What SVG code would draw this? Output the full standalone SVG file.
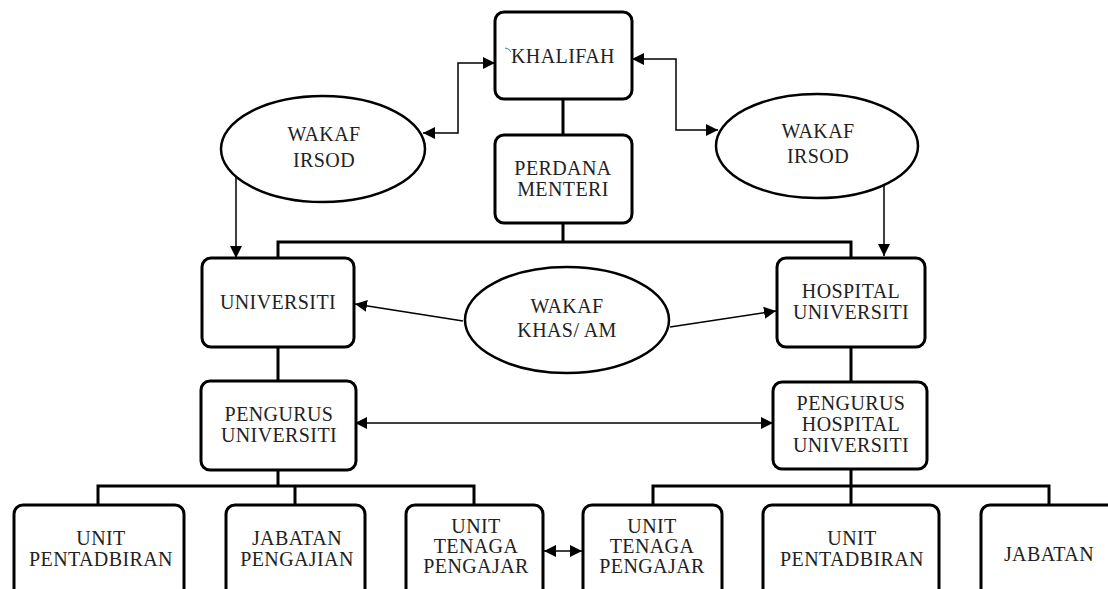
<svg xmlns="http://www.w3.org/2000/svg" width="1108" height="589" viewBox="0 0 1108 589">
<defs>
<style>
.box{fill:#fff;stroke:#000;stroke-width:3}
.ell{fill:#fff;stroke:#000;stroke-width:2.5}
.t{font-family:"Liberation Serif","Times New Roman",serif;font-size:20px;letter-spacing:0.4px;fill:#222;text-anchor:middle}
.tree{fill:none;stroke:#000;stroke-width:3}
.arr{fill:none;stroke:#000;stroke-width:1.5}
</style>
<marker id="ah" viewBox="0 0 12 12" refX="12" refY="6" markerWidth="12" markerHeight="12" markerUnits="userSpaceOnUse" orient="auto-start-reverse">
<path d="M0,0 L12,6 L0,12 Z" fill="#000"/>
</marker>
</defs>
<rect width="1108" height="589" fill="#fff"/>
<g id="connectors">
<path class="tree" d="M563,99 V135 M563,223 V242 M278,258 V242 H851 V258 M278,347 V381 M851,347 V382"/>
<path class="tree" d="M278,470 V486 M98,505 V486 H474 V505 M295,486 V505"/>
<path class="tree" d="M851,469 V486 M653,505 V486 H1049 V505 M851,486 V505"/>
<path class="arr" d="M423,133 H458 V63 H495" marker-start="url(#ah)" marker-end="url(#ah)"/>
<path class="arr" d="M632,59 H676 V130 H718" marker-start="url(#ah)" marker-end="url(#ah)"/>
<path class="arr" d="M236,177 V258" marker-end="url(#ah)"/>
<path class="arr" d="M884,185 V256" marker-end="url(#ah)"/>
<path class="arr" d="M463,321 L355,304" marker-end="url(#ah)"/>
<path class="arr" d="M670,327 L776,311" marker-end="url(#ah)"/>
<path class="arr" d="M355,423 H773" marker-start="url(#ah)" marker-end="url(#ah)"/>
<path class="arr" d="M544,551 H582" marker-start="url(#ah)" marker-end="url(#ah)"/>
</g>
<g id="khalifah">
<rect class="box" x="495" y="12" width="137" height="87" rx="9"/>
<path d="M505,48 Q509,48 511,52" fill="none" stroke="#4a6fd0" stroke-width="1"/>
<text class="t" x="563" y="63">KHALIFAH</text>
</g>
<g id="perdana">
<rect class="box" x="495" y="135" width="137" height="88" rx="9"/>
<text class="t" x="563" y="175">PERDANA</text>
<text class="t" x="563" y="196">MENTERI</text>
</g>
<g id="wakaf-irsod-left">
<ellipse class="ell" cx="323" cy="149" rx="102" ry="53"/>
<text class="t" x="324" y="141">WAKAF</text>
<text class="t" x="324" y="167">IRSOD</text>
</g>
<g id="wakaf-irsod-right">
<ellipse class="ell" cx="817" cy="146" rx="101" ry="52"/>
<text class="t" x="818" y="138">WAKAF</text>
<text class="t" x="818" y="163">IRSOD</text>
</g>
<g id="universiti">
<rect class="box" x="202" y="258" width="152" height="89" rx="9"/>
<text class="t" x="278" y="309">UNIVERSITI</text>
</g>
<g id="wakaf-khas">
<ellipse class="ell" cx="567" cy="320" rx="102" ry="53"/>
<text class="t" x="567" y="313">WAKAF</text>
<text class="t" x="567" y="337">KHAS/ AM</text>
</g>
<g id="hospital-universiti">
<rect class="box" x="777" y="258" width="148" height="89" rx="9"/>
<text class="t" x="851" y="298">HOSPITAL</text>
<text class="t" x="851" y="319">UNIVERSITI</text>
</g>
<g id="pengurus-universiti">
<rect class="box" x="201" y="381" width="155" height="89" rx="9"/>
<text class="t" x="279" y="421">PENGURUS</text>
<text class="t" x="279" y="442">UNIVERSITI</text>
</g>
<g id="pengurus-hospital">
<rect class="box" x="773" y="382" width="154" height="87" rx="9"/>
<text class="t" x="851" y="410">PENGURUS</text>
<text class="t" x="851" y="431">HOSPITAL</text>
<text class="t" x="851" y="452">UNIVERSITI</text>
</g>
<g id="unit-pentadbiran-left">
<rect class="box" x="14" y="505" width="170" height="100" rx="9"/>
<text class="t" x="101" y="545">UNIT</text>
<text class="t" x="101" y="566">PENTADBIRAN</text>
</g>
<g id="jabatan-pengajian">
<rect class="box" x="226" y="505" width="139" height="100" rx="9"/>
<text class="t" x="297" y="545">JABATAN</text>
<text class="t" x="297" y="566">PENGAJIAN</text>
</g>
<g id="unit-tenaga-left">
<rect class="box" x="406" y="505" width="137" height="100" rx="9"/>
<text class="t" x="476" y="533">UNIT</text>
<text class="t" x="476" y="553">TENAGA</text>
<text class="t" x="476" y="573">PENGAJAR</text>
</g>
<g id="unit-tenaga-right">
<rect class="box" x="583" y="505" width="139" height="100" rx="9"/>
<text class="t" x="652" y="533">UNIT</text>
<text class="t" x="652" y="553">TENAGA</text>
<text class="t" x="652" y="573">PENGAJAR</text>
</g>
<g id="unit-pentadbiran-right">
<rect class="box" x="763" y="505" width="176" height="100" rx="9"/>
<text class="t" x="852" y="545">UNIT</text>
<text class="t" x="852" y="566">PENTADBIRAN</text>
</g>
<g id="jabatan">
<rect class="box" x="981" y="505" width="136" height="100" rx="9"/>
<text class="t" x="1049" y="561">JABATAN</text>
</g>
</svg>
